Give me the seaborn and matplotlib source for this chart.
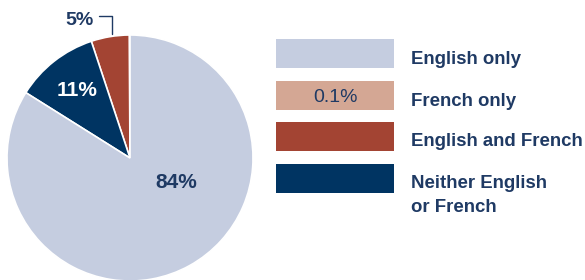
import matplotlib
matplotlib.use("Agg")
import matplotlib.pyplot as plt
import seaborn as sns
from matplotlib.patches import Rectangle

sns.set_theme(style="white")
plt.rcParams['font.family'] = ['Liberation Sans', 'DejaVu Sans']

# data
categories = ["English only", "French only", "English and French", "Neither English\nor French"]
shares = [84, 0.1, 5, 11]
share_labels = ["84%", "0.1%", "5%", "11%"]
colors = ["#c5cde0", "#d4a794", "#a34433", "#003462"]
text_color = "#1f3a64"

fig = plt.figure(figsize=(5.85, 2.8), dpi=100)

# pie, drawn counterclockwise from the top: French, E&F, Neither, English
ax = fig.add_axes([7 / 585, -1 / 280, 246 / 585, 246 / 280])
order = [1, 2, 3, 0]
wedges, _ = ax.pie([shares[i] for i in order], colors=[colors[i] for i in order],
                   startangle=90, counterclock=True,
                   wedgeprops=dict(edgecolor="white", linewidth=1.2))
ax.set_xlim(-1, 1)
ax.set_ylim(-1, 1)
ax.set_aspect("equal")
ax.axis("off")

ax.text(-0.43, 0.55, share_labels[3], color="white", fontsize=15, fontweight="bold",
        ha="center", va="center")
ax.text(0.38, -0.2, share_labels[0], color=text_color, fontsize=15, fontweight="bold",
        ha="center", va="center")
ax.text(-0.41, 1.12, share_labels[2], color=text_color, fontsize=14, fontweight="bold",
        ha="center", va="center", clip_on=False)
ax.plot([-0.252, -0.146, -0.146], [1.157, 1.157, 1.01], color=text_color, lw=1, clip_on=False)

# legend panel
lax = fig.add_axes([0, 0, 1, 1])
lax.set_xlim(0, 585)
lax.set_ylim(280, 0)
lax.axis("off")
box_tops = [39, 81, 122, 164]
for cat, lab, col, top in zip(categories, share_labels, colors, box_tops):
    lax.add_patch(Rectangle((276, top), 118, 29, facecolor=col, edgecolor="none"))
    for k, line in enumerate(cat.split("\n")):
        lax.text(411, top + 24.5 + 23 * k, line, color=text_color, fontsize=13.4,
                 fontweight="bold", va="baseline")
lax.text(336, box_tops[1] + 20.7, share_labels[1], color=text_color, fontsize=14,
         ha="center", va="baseline")

fig.savefig("out.png", dpi=100)
